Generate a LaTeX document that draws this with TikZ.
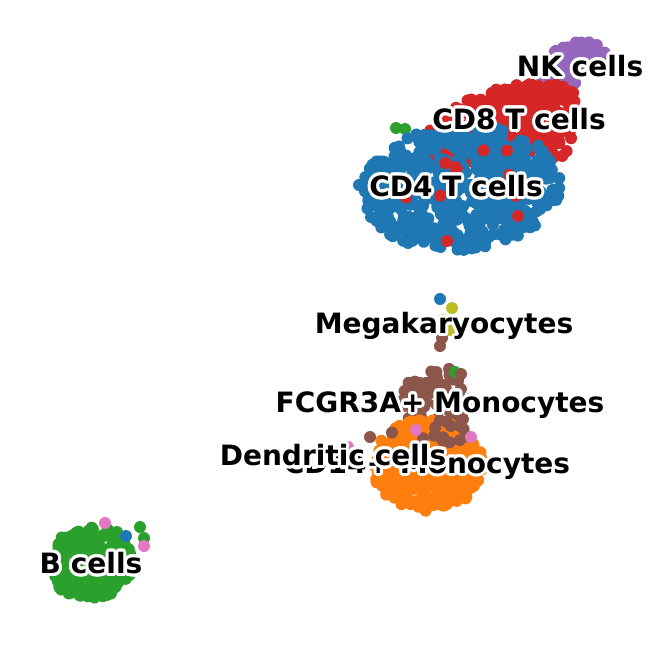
\documentclass[tikz,border=0pt]{standalone}
\usepackage{fontspec}
\setmainfont{DejaVu Sans}
\usetikzlibrary{calc}
\definecolor{cdfour}{HTML}{1F77B4}
\definecolor{cdmono}{HTML}{FF7F0E}
\definecolor{bcell}{HTML}{2CA02C}
\definecolor{cdeight}{HTML}{D62728}
\definecolor{nkcell}{HTML}{9467BD}
\definecolor{fcmono}{HTML}{8C564B}
\definecolor{dendro}{HTML}{E377C2}
\definecolor{megak}{HTML}{BCBD22}
% cloud of cells: colour, centre x, centre y, radius x, radius y, tilt, count
\newcommand{\cellblob}[7]{\foreach \i in {1,...,#7}{%
	\pgfmathsetmacro\ang{360*rnd}\pgfmathsetmacro\rad{sqrt(rnd)}%
	\fill[#1] ({#2+#4*\rad*cos(\ang)*cos(#6)-#5*\rad*sin(\ang)*sin(#6)},{#3+#4*\rad*cos(\ang)*sin(#6)+#5*\rad*sin(\ang)*cos(#6)}) circle (6pt);}}
\newcommand{\cell}[3]{\fill[#1] (#2,#3) circle (6pt);}
% label with white halo
\newcommand{\celllabel}[4]{\foreach \a in {0,20,...,340}{\node[clabel,white,shift={(\a:3pt)}] at (#2,#3) {#4};}
	\node[clabel] (#1) at (#2,#3) {#4};}
\tikzset{clabel/.style={font=\fontsize{28}{32}\selectfont\bfseries,inner sep=0pt,text=black}}

\begin{document}
\begin{tikzpicture}[x=1pt,y=-1pt]
		%%%%% START %%%%%
		\useasboundingbox (0,0) rectangle (664,648);
		\pgfmathsetseed{4711}
		
		% NK and CD8 T cells
		\cellblob{nkcell}{572}{64}{36}{20}{-20}{70}
		\cellblob{cdeight}{500}{124}{82}{34}{-18}{300}
		\cellblob{cdeight}{550}{140}{24}{22}{0}{35}
		\cell{bcell}{396}{128}
		\cell{bcell}{405}{129}
		
		% CD4 T cells
		\cellblob{cdfour}{461}{188}{100}{62}{-4}{600}
		\cell{cdfour}{359}{185}
		\cell{cdfour}{408}{243}
		\cellblob{cdeight}{470}{180}{70}{45}{0}{9}
		\cell{cdeight}{518}{216}
		\cell{cdeight}{455}{167}
		\cell{cdeight}{447}{241}
		
		% Megakaryocytes
		\cell{cdfour}{440}{299}
		\cell{megak}{452}{308}
		\cell{megak}{443}{320}
		\cell{fcmono}{442}{338}
		\cell{fcmono}{440}{346}
		\cell{megak}{450}{330}
		
		% FCGR3A+ and CD14+ Monocytes
		\cellblob{fcmono}{436}{400}{34}{34}{0}{75}
		\cell{bcell}{455}{372}
		\cell{fcmono}{461}{374}
		\cell{fcmono}{420}{383}
		\cellblob{cdmono}{428}{465}{56}{46}{0}{340}
		\cellblob{fcmono}{430}{432}{40}{14}{0}{14}
		\cell{fcmono}{370}{437}
		\cell{dendro}{348}{447}
		\cell{dendro}{416}{430}
		\cell{dendro}{471}{437}
		
		% B cells
		\cellblob{bcell}{91}{563}{43}{36}{-5}{210}
		\cell{bcell}{140}{527}
		\cell{bcell}{117}{532}
		\cell{dendro}{105}{523}
		\cell{cdfour}{126}{536}
		\cell{bcell}{144}{538}
		\cell{dendro}{144}{546}
		
		% labels
		\celllabel{nk}{580}{66}{NK cells}
		\celllabel{cd8}{519}{119}{CD8 T cells}
		\celllabel{cd4}{456}{186}{CD4 T cells}
		\celllabel{mega}{444}{326}{Megakaryocytes}
		\celllabel{fcgr}{440}{405}{FCGR3A+ Monocytes}
		\celllabel{cd14}{427}{466}{CD14+ Monocytes}
		\celllabel{dc}{333}{455}{Dendritic cells}
		\celllabel{bc}{91}{563}{B cells}
		
		%%%%% END %%%%%
	\end{tikzpicture}
\end{document}
